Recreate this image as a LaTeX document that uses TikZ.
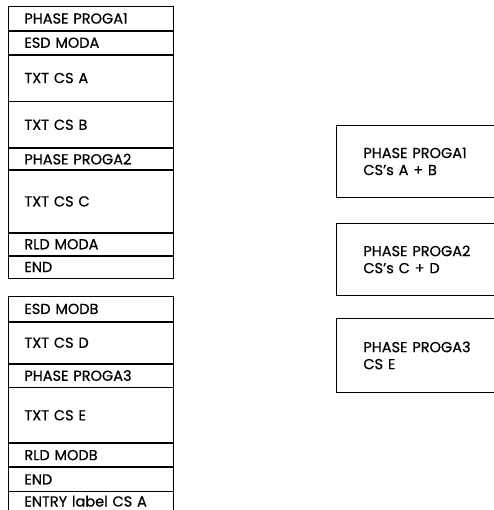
\documentclass[tikz,border=0pt]{standalone}
\usepackage{fontspec}
\setmainfont{Poppins}[FakeBold=0.6]
\usepackage{tikz}
\usetikzlibrary{positioning}

\begin{document}
\begin{tikzpicture}[x=1pt,y=-1pt,font=\fontsize{14.5}{16}\selectfont,line width=0.8pt,
  row/.style={draw,anchor=north west,minimum width=165pt,inner xsep=16pt,inner ysep=0pt,
    text width=133pt,align=left},
  phasebox/.style={draw,anchor=north west,minimum width=180pt,inner xsep=27pt,inner ysep=0pt,
    text width=126pt,align=left,font=\fontsize{14.5}{17}\selectfont}]
\useasboundingbox (0,0) rectangle (493,510);
\coordinate (pagebottom) at (0,510);
% module A : first object deck
\node[row,minimum height=24pt] (a1) at (8,6) {PHASE PROGA1};
\node[row,minimum height=23pt,below=0pt of a1.south west,anchor=north west] (a2) {ESD MODA};
\node[row,minimum height=46pt,below=0pt of a2.south west,anchor=north west] (a3) {TXT CS A};
\node[row,minimum height=46pt,below=0pt of a3.south west,anchor=north west] (a4) {TXT CS B};
\node[row,minimum height=21pt,below=0pt of a4.south west,anchor=north west] (a5) {PHASE PROGA2};
\node[row,minimum height=62pt,below=0pt of a5.south west,anchor=north west] (a6) {TXT CS C};
\node[row,minimum height=22pt,below=0pt of a6.south west,anchor=north west] (a7) {RLD MODA};
\node[row,minimum height=22pt,below=0pt of a7.south west,anchor=north west] (a8) {END};
% module B : second object deck, last card runs off the page
\node[row,minimum height=25pt] (b1) at (8,296) {ESD MODB};
\node[row,minimum height=41pt,below=0pt of b1.south west,anchor=north west] (b2) {TXT CS D};
\node[row,minimum height=23pt,below=0pt of b2.south west,anchor=north west] (b3) {PHASE PROGA3};
\node[row,minimum height=55pt,below=0pt of b3.south west,anchor=north west] (b4) {TXT CS E};
\node[row,minimum height=23pt,below=0pt of b4.south west,anchor=north west] (b5) {RLD MODB};
\node[row,minimum height=24pt,below=0pt of b5.south west,anchor=north west] (b6) {END};
\node[row,draw=none,minimum height=18pt,below=0pt of b6.south west,anchor=north west] (b7) {ENTRY label CS A};
\draw (b7.south west |- pagebottom) -- (b7.north west) -- (b7.north east) -- (b7.south east |- pagebottom);
% resulting phases
\node[phasebox,minimum height=72pt] (p1) at (336,125) {PHASE PROGA1\\CS's A + B};
\node[phasebox,minimum height=72pt] (p2) at (336,223) {PHASE PROGA2\\CS's C + D};
\node[phasebox,minimum height=74pt] (p3) at (336,318) {PHASE PROGA3\\CS E};
\end{tikzpicture}
\end{document}
